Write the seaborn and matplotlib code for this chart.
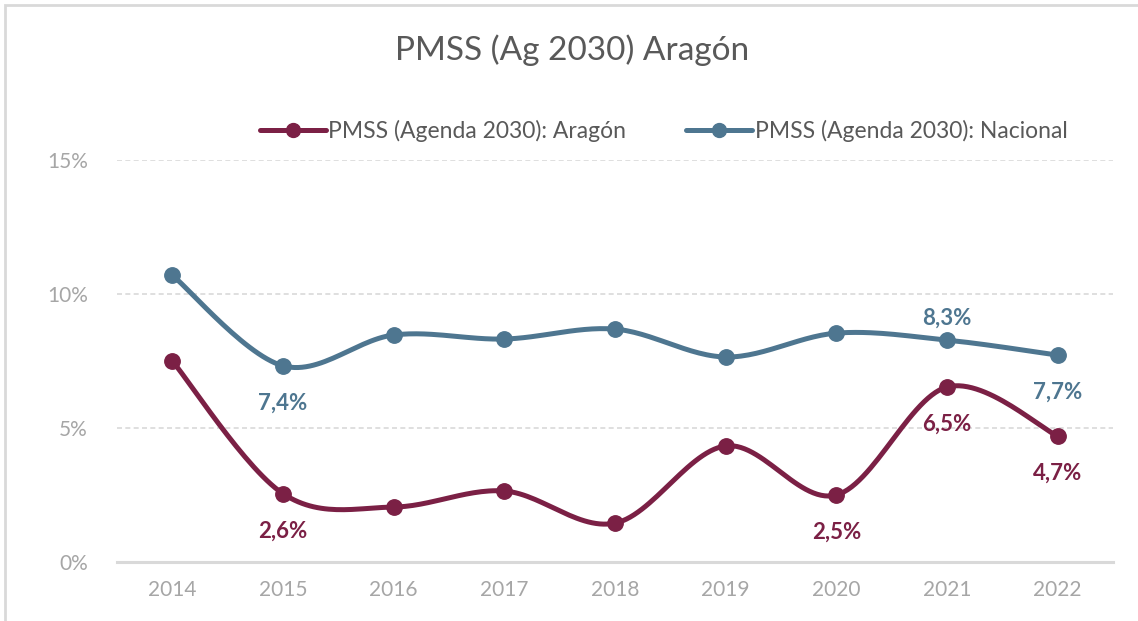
import numpy as np
import pandas as pd
import matplotlib
matplotlib.use("Agg")
import matplotlib.pyplot as plt
import seaborn as sns

years = ["2014", "2015", "2016", "2017", "2018", "2019", "2020", "2021", "2022"]
aragon = [7.5, 2.55, 2.05, 2.65, 1.45, 4.33, 2.5, 6.53, 4.7]
nacional = [10.7, 7.32, 8.47, 8.32, 8.69, 7.65, 8.54, 8.28, 7.72]

# labels shown on the chart (index, text, offset in points)
aragon_labels = [(1, "2,6%", -27), (6, "2,5%", -27), (7, "6,5%", -27), (8, "4,7%", -27)]
nacional_labels = [(1, "7,4%", -27), (7, "8,3%", 16), (8, "7,7%", -27)]

col_ar = "#7B2045"
col_na = "#4E7690"
grey = "#A6A6A6"


def smooth(y, n=30):
    # bezier smoothing like excel's "smoothed line"
    x = np.arange(len(y), dtype=float)
    y = np.asarray(y, dtype=float)
    xs, ys = [], []
    for i in range(len(y) - 1):
        p0 = np.array([x[max(i - 1, 0)], y[max(i - 1, 0)]])
        p1 = np.array([x[i], y[i]])
        p2 = np.array([x[i + 1], y[i + 1]])
        p3 = np.array([x[min(i + 2, len(y) - 1)], y[min(i + 2, len(y) - 1)]])
        c1 = p1 + (p2 - p0) / 6
        c2 = p2 - (p3 - p1) / 6
        t = np.linspace(0, 1, n)[:, None]
        pts = (1 - t) ** 3 * p1 + 3 * (1 - t) ** 2 * t * c1 + 3 * (1 - t) * t ** 2 * c2 + t ** 3 * p2
        xs.extend(pts[:, 0])
        ys.extend(pts[:, 1])
    return np.array(xs), np.array(ys)


sns.set_style("white")
plt.rcParams["font.family"] = ["Lato", "DejaVu Sans"]

fig = plt.figure(figsize=(11.38, 6.21), dpi=100)
ax = fig.add_axes([117 / 1138, 59 / 621, 996 / 1138, 402 / 621])

df = pd.DataFrame({"pos": np.arange(len(years)), "Aragón": aragon, "Nacional": nacional})

for key, col in [("Nacional", col_na), ("Aragón", col_ar)]:
    sx, sy = smooth(df[key])
    sns.lineplot(x=sx, y=sy, ax=ax, color=col, lw=3.6, sort=False, estimator=None)
    sns.scatterplot(data=df, x="pos", y=key, ax=ax, color=col, s=125, edgecolor=col, zorder=5)

for i, txt, off in aragon_labels:
    ax.annotate(txt, (i, aragon[i]), xytext=(0, off), textcoords="offset points",
                ha="center", va="center", fontsize=16, fontweight="bold", color=col_ar)
for i, txt, off in nacional_labels:
    ax.annotate(txt, (i, nacional[i]), xytext=(0, off), textcoords="offset points",
                ha="center", va="center", fontsize=16, fontweight="bold", color=col_na)

ax.set_xlim(-0.5, len(years) - 0.5)
ax.set_ylim(0, 15)
ax.set_xticks(range(len(years)))
ax.set_xticklabels(years)
ax.set_yticks([0, 5, 10, 15])
ax.set_yticklabels(["0%", "5%", "10%", "15%"])
ax.tick_params(axis="both", colors=grey, labelsize=15, length=0)
ax.tick_params(axis="x", pad=13)
ax.tick_params(axis="y", pad=21)
ax.set_xlabel("")
ax.set_ylabel("")
for lbl in ax.get_xticklabels() + ax.get_yticklabels():
    lbl.set_color(grey)

ax.yaxis.grid(True, color="#D9D9D9", ls=(0, (3, 2)), lw=1.2)
ax.xaxis.grid(False)
for s in ["top", "right", "left"]:
    ax.spines[s].set_visible(False)
ax.spines["bottom"].set_color("#D9D9D9")
ax.spines["bottom"].set_linewidth(2.2)

# legend
h_ar = plt.Line2D([], [], color=col_ar, lw=3.6, marker="o", ms=10)
h_na = plt.Line2D([], [], color=col_na, lw=3.6, marker="o", ms=10)
fig.legend([h_ar, h_na], ["PMSS (Agenda 2030): Aragón", "PMSS (Agenda 2030): Nacional"],
           loc="center", bbox_to_anchor=(0.583, 1 - 131 / 621), ncol=2, frameon=False,
           fontsize=16.5, handlelength=2.9, handletextpad=0.1, columnspacing=2.6,
           labelcolor="#595959")

fig.text(0.503, 1 - 50 / 621, "PMSS (Ag 2030) Aragón", ha="center", va="center",
         fontsize=24, color="#595959")

# outer frame of the chart area
fig.add_artist(plt.Rectangle((5 / 1138, -0.05), 1.2, 1 - 5 / 621 + 0.05, transform=fig.transFigure,
                             fill=False, ec="#D9D9D9", lw=2))

fig.savefig("out.png", dpi=100)
